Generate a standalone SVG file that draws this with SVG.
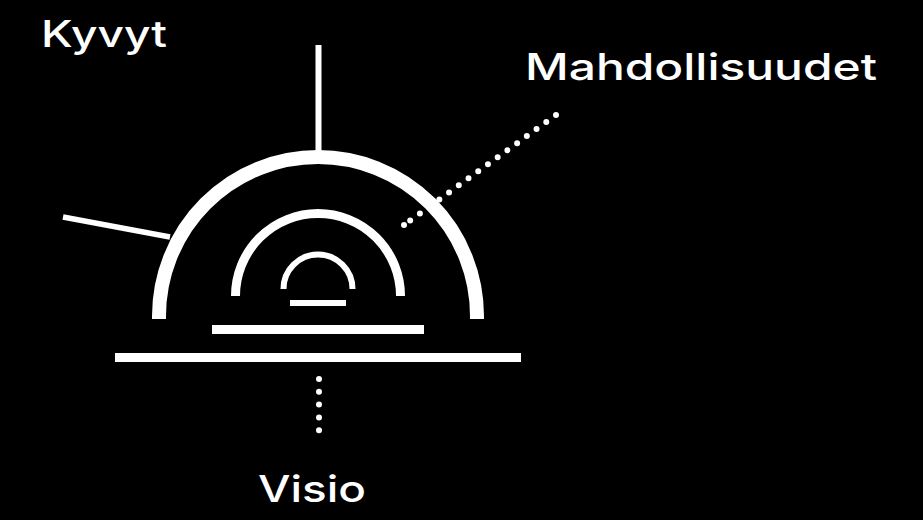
<svg xmlns="http://www.w3.org/2000/svg" width="923" height="520" viewBox="0 0 923 520">
<style>
.bg{fill:#000}
.arc{fill:none;stroke:#fff;stroke-linecap:butt}
.bar{fill:#fff}
.solid{stroke:#fff;fill:none}
.dot{stroke:#fff;stroke-width:6;stroke-linecap:round;fill:none}
.lbl{fill:#fff;font-family:Inter,"Liberation Sans",sans-serif;font-weight:500;font-size:37px}
</style>
<defs>
<marker id="enddot" viewBox="0 0 6 6" refX="3" refY="3" markerWidth="6" markerHeight="6" markerUnits="userSpaceOnUse">
<circle cx="3" cy="3" r="3" fill="#fff"/>
</marker>
</defs>
<rect class="bg" x="0" y="0" width="923" height="520"/>
<g id="connectors">
<line class="solid" x1="318.5" y1="45" x2="318.5" y2="152" stroke-width="6"/>
<line class="solid" x1="63" y1="217" x2="170" y2="237" stroke-width="5.5"/>
<line class="dot" x1="556" y1="115" x2="404" y2="225" stroke-dasharray="0 12" marker-end="url(#enddot)"/>
<line class="dot" x1="319" y1="379" x2="319" y2="443" stroke-dasharray="0 12.8"/>
</g>
<g id="outer-dome">
<path class="arc" stroke-width="14" d="M159,319 V316 A159,159 0 0 1 477,316 V319"/>
</g>
<g id="middle-dome">
<path class="arc" stroke-width="9" d="M235.5,296 A82.5,82.5 0 0 1 400.5,296"/>
</g>
<g id="inner-dome">
<path class="arc" stroke-width="6" d="M283.5,289 A34.5,34.5 0 0 1 352.5,289"/>
</g>
<g id="inner-base">
<rect class="bar" x="290" y="300" width="56" height="6"/>
</g>
<g id="middle-base">
<rect class="bar" x="212" y="325" width="212" height="9"/>
</g>
<g id="ground">
<rect class="bar" x="115" y="353" width="406" height="9"/>
</g>
<g id="label-kyvyt">
<text class="lbl" x="41" y="47" textLength="126" lengthAdjust="spacingAndGlyphs">Kyvyt</text>
</g>
<g id="label-mahdollisuudet">
<text class="lbl" x="525" y="80" textLength="352" lengthAdjust="spacingAndGlyphs">Mahdollisuudet</text>
</g>
<g id="label-visio">
<text class="lbl" x="258" y="502" textLength="108" lengthAdjust="spacingAndGlyphs">Visio</text>
</g>
</svg>
